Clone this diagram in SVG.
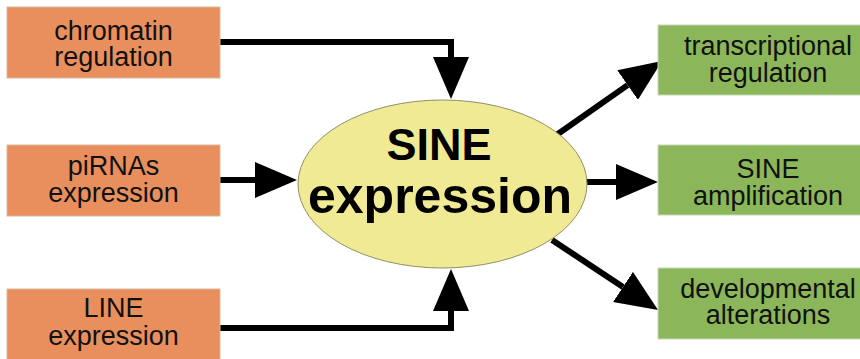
<svg xmlns="http://www.w3.org/2000/svg" width="860" height="359" viewBox="0 0 860 359">
<style>
.in rect{fill:#E98F5E;stroke:#d9b8a0;stroke-width:1}
.out rect{fill:#8BB75A;stroke:#c8d8b8;stroke-width:1}
.t{font-family:"Liberation Sans",Arial,sans-serif;font-size:27px;fill:#111;text-anchor:middle}
.big{font-family:"Liberation Sans",Arial,sans-serif;font-weight:bold;fill:#000;text-anchor:middle}
.conn path{fill:none;stroke:#000;stroke-width:6;marker-end:url(#ah)}
</style>
<defs>
<marker id="ah" markerUnits="userSpaceOnUse" markerWidth="43" markerHeight="36" refX="0" refY="18" orient="auto">
<path d="M0,0 L42,18 L0,36 z" fill="#000"/>
</marker>
</defs>
<rect width="860" height="359" fill="#fff"/>
<g class="conn" id="connectors">
<path d="M220,42 H451 V57"/>
<path d="M220,180 H255"/>
<path d="M220,328 H451 V311"/>
<path d="M555,136 L627.6,85.1"/>
<path d="M584,182 H616"/>
<path d="M552,240 L623,286.9"/>
</g>
<g id="chromatin" class="in">
<rect x="7" y="7" width="213" height="71"/>
<text class="t" x="113.5" y="40">chromatin</text>
<text class="t" x="113.5" y="66">regulation</text>
</g>
<g id="pirnas" class="in">
<rect x="7" y="145" width="213" height="71"/>
<text class="t" x="113.5" y="175">piRNAs</text>
<text class="t" x="113.5" y="202">expression</text>
</g>
<g id="line" class="in">
<rect x="7" y="289" width="213" height="75"/>
<text class="t" x="113.5" y="317">LINE</text>
<text class="t" x="113.5" y="345">expression</text>
</g>
<g id="sine">
<ellipse cx="442.5" cy="184" rx="144.5" ry="84" fill="#F0EA94" stroke="#8f8f6a" stroke-width="1"/>
<text class="big" x="439" y="160" font-size="45">SINE</text>
<text class="big" x="440" y="213" font-size="50">expression</text>
</g>
<g id="transcriptional" class="out">
<rect x="658" y="25" width="210" height="70"/>
<text class="t" x="768" y="55">transcriptional</text>
<text class="t" x="768" y="82">regulation</text>
</g>
<g id="amplification" class="out">
<rect x="658" y="145" width="210" height="70"/>
<text class="t" x="768" y="178">SINE</text>
<text class="t" x="768" y="205">amplification</text>
</g>
<g id="developmental" class="out">
<rect x="658" y="268" width="210" height="71"/>
<text class="t" x="768" y="298">developmental</text>
<text class="t" x="768" y="324">alterations</text>
</g>
</svg>
